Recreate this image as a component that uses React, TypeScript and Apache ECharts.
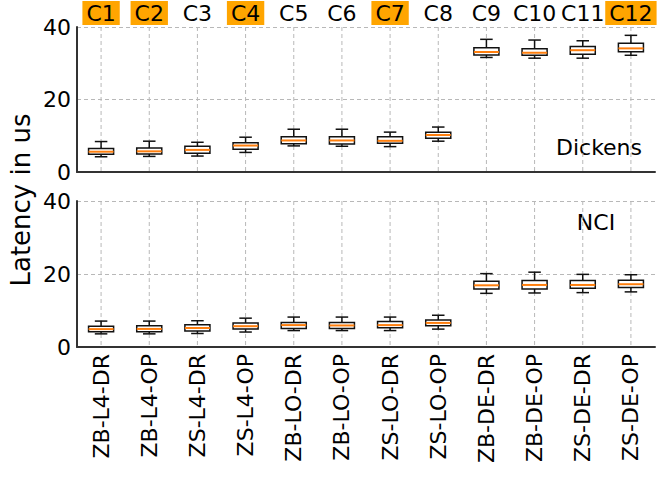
import React, { useEffect, useRef } from "react";
import * as echarts from "echarts";

const categories = ["ZB-L4-DR", "ZB-L4-OP", "ZS-L4-DR", "ZS-L4-OP", "ZB-LO-DR", "ZB-LO-OP", "ZS-LO-DR", "ZS-LO-OP", "ZB-DE-DR", "ZB-DE-OP", "ZS-DE-DR", "ZS-DE-OP"];
const topLabels = ["C1", "C2", "C3", "C4", "C5", "C6", "C7", "C8", "C9", "C10", "C11", "C12"];
const highlighted = ["C1", "C2", "C4", "C7", "C12"];
const yTicks = [0, 20, 40];

const dickensMin = [4.2, 4.3, 4.4, 5.4, 7.2, 7.1, 7.0, 8.5, 31.6, 31.4, 31.4, 32.2];
const dickensQ1 = [4.9, 5.0, 5.2, 6.3, 7.8, 7.7, 7.9, 9.3, 32.3, 32.2, 32.5, 33.2];
const dickensMedian = [5.6, 5.7, 6.1, 7.3, 8.7, 8.7, 8.6, 10.2, 33.1, 32.9, 33.6, 34.1];
const dickensQ3 = [6.5, 6.6, 7.1, 8.1, 9.7, 9.7, 9.7, 11.0, 34.3, 34.0, 34.6, 35.5];
const dickensMax = [8.4, 8.5, 8.2, 9.6, 11.8, 11.8, 11.0, 12.4, 36.6, 36.4, 36.2, 37.7];

const nciMin = [3.6, 3.6, 3.7, 4.1, 4.5, 4.5, 4.5, 4.9, 14.7, 14.8, 14.9, 15.1];
const nciQ1 = [4.2, 4.2, 4.4, 4.9, 5.1, 5.1, 5.3, 5.8, 15.9, 15.9, 16.1, 16.3];
const nciMedian = [4.9, 4.95, 5.2, 5.7, 6.0, 5.9, 6.0, 6.6, 16.9, 17.0, 17.0, 17.2];
const nciQ3 = [5.7, 5.8, 6.1, 6.6, 6.7, 6.7, 7.0, 7.4, 18.0, 18.2, 18.2, 18.3];
const nciMax = [7.1, 7.1, 7.2, 7.9, 8.2, 8.2, 8.2, 8.7, 20.1, 20.5, 19.9, 19.8];

const FONT = "DejaVu Sans";
const SPINE = "#333333";
const GRIDC = "#b8b8b8";

function buildData(mn: number[], q1: number[], md: number[], q3: number[], mx: number[]) {
  return categories.map((_, i) => [i, mn[i], q1[i], md[i], q3[i], mx[i]]);
}

const renderBox = (params: any, api: any) => {
  const x = api.value(0);
  const pMin = api.coord([x, api.value(1)]);
  const pQ1 = api.coord([x, api.value(2)]);
  const pMed = api.coord([x, api.value(3)]);
  const pQ3 = api.coord([x, api.value(4)]);
  const pMax = api.coord([x, api.value(5)]);
  const pTop = api.coord([x, yTicks[yTicks.length - 1]]);
  const pBot = api.coord([x, yTicks[0]]);
  const band = api.size([1, 0])[0];
  const bw = band * 0.52;
  const cw = bw * 0.5;
  const cx = pMed[0];
  const black = { stroke: "#111", lineWidth: 1.5, fill: "none" };
  return {
    type: "group",
    children: [
      { type: "line", shape: { x1: cx, y1: pTop[1], x2: cx, y2: pBot[1] }, style: { stroke: GRIDC, lineWidth: 1, lineDash: [4, 3] } },
      { type: "line", shape: { x1: cx, y1: pMax[1], x2: cx, y2: pQ3[1] }, style: black },
      { type: "line", shape: { x1: cx, y1: pQ1[1], x2: cx, y2: pMin[1] }, style: black },
      { type: "line", shape: { x1: cx - cw / 2, y1: pMax[1], x2: cx + cw / 2, y2: pMax[1] }, style: black },
      { type: "line", shape: { x1: cx - cw / 2, y1: pMin[1], x2: cx + cw / 2, y2: pMin[1] }, style: black },
      { type: "rect", shape: { x: cx - bw / 2, y: pQ3[1], width: bw, height: pQ1[1] - pQ3[1] }, style: { stroke: "#111", lineWidth: 1.5, fill: "#ffffff" } },
      { type: "line", shape: { x1: cx - bw / 2, y1: pMed[1], x2: cx + bw / 2, y2: pMed[1] }, style: { stroke: "#ff7f0e", lineWidth: 2 } },
    ],
  };
};

const yAxisBase = (gridIndex: number) => ({
  type: "value",
  gridIndex,
  min: 0,
  max: 40,
  interval: 20,
  axisLine: { show: true, lineStyle: { color: SPINE, width: 2 } },
  axisTick: { show: false },
  axisLabel: { fontSize: 22, color: "#000", fontFamily: FONT, margin: 6 },
  splitLine: { show: true, lineStyle: { color: GRIDC, type: [4, 3], width: 1 } },
});

export default function App() {
  const ref = useRef<HTMLDivElement>(null);
  useEffect(() => {
    document.body.style.margin = "0";
    if (!ref.current) return;
    const chart = echarts.init(ref.current, null, { renderer: "svg" });
    chart.setOption({
      animation: false,
      backgroundColor: "#ffffff",
      grid: [
        { left: 77, right: 10, top: 27, height: 145 },
        { left: 77, right: 10, top: 201, height: 146 },
      ],
      xAxis: [
        {
          type: "category",
          gridIndex: 0,
          data: categories,
          axisLine: { show: true, lineStyle: { color: SPINE, width: 2 } },
          axisTick: { show: false },
          axisLabel: { show: false },
          splitLine: { show: false },
        },
        {
          type: "category",
          gridIndex: 0,
          position: "top",
          data: topLabels,
          axisLine: { show: false },
          axisTick: { show: false },
          axisLabel: {
            interval: 0,
            margin: 2,
            fontSize: 22,
            color: "#000",
            fontFamily: FONT,
            formatter: (v: string) => (highlighted.includes(v) ? `{h|${v}}` : `{n|${v}}`),
            rich: {
              h: { backgroundColor: "#FFA500", padding: [1, 4, 1, 4], fontSize: 22, color: "#000", fontFamily: FONT },
              n: { padding: [1, 4, 1, 4], fontSize: 22, color: "#000", fontFamily: FONT },
            },
          },
          splitLine: { show: false },
        },
        {
          type: "category",
          gridIndex: 1,
          data: categories,
          axisLine: { show: true, lineStyle: { color: SPINE, width: 2 } },
          axisTick: { show: false },
          axisLabel: { interval: 0, rotate: 90, margin: 7, fontSize: 22, color: "#000", fontFamily: FONT },
          splitLine: { show: false },
        },
      ],
      yAxis: [yAxisBase(0), yAxisBase(1)],
      series: [
        {
          type: "custom",
          name: "Dickens",
          xAxisIndex: 0,
          yAxisIndex: 0,
          renderItem: renderBox,
          encode: { x: 0, y: [1, 2, 3, 4, 5] },
          data: buildData(dickensMin, dickensQ1, dickensMedian, dickensQ3, dickensMax),
        },
        {
          type: "custom",
          name: "NCI",
          xAxisIndex: 2,
          yAxisIndex: 1,
          renderItem: renderBox,
          encode: { x: 0, y: [1, 2, 3, 4, 5] },
          data: buildData(nciMin, nciQ1, nciMedian, nciQ3, nciMax),
        },
      ],
      graphic: [
        {
          type: "text",
          x: 21,
          y: 200,
          rotation: Math.PI / 2,
          style: { text: "Latency in us", fontSize: 26, fontFamily: FONT, fill: "#000", align: "center", verticalAlign: "middle" },
        },
        {
          type: "text",
          x: 599,
          y: 147,
          style: { text: "Dickens", fontSize: 22, fontFamily: FONT, fill: "#000", align: "center", verticalAlign: "middle" },
        },
        {
          type: "text",
          x: 596,
          y: 222,
          style: { text: "NCI", fontSize: 22, fontFamily: FONT, fill: "#000", align: "center", verticalAlign: "middle" },
        },
      ],
    });
    return () => chart.dispose();
  }, []);
  return <div ref={ref} style={{ width: 665, height: 480 }} />;
}
